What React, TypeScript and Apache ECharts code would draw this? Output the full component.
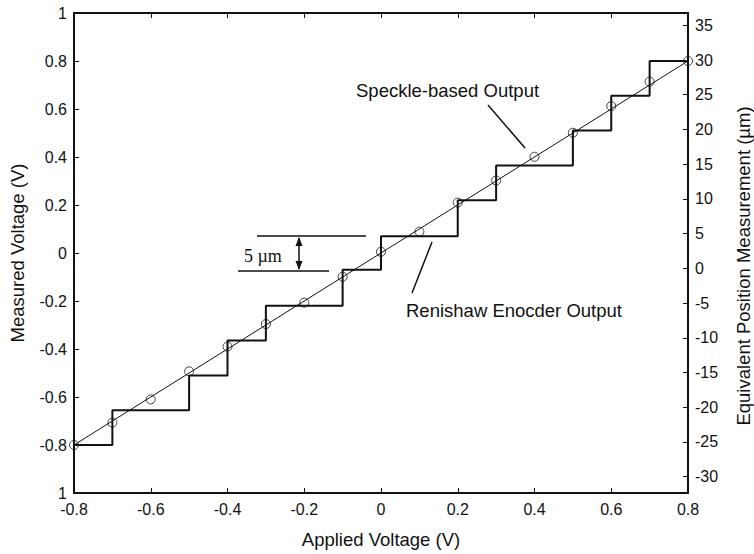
import React, { useEffect, useRef } from "react";
import * as echarts from "echarts";

// Renishaw encoder output (staircase): transition x positions and levels (V)
const stepX = [-0.8, -0.7, -0.5, -0.4, -0.3, -0.1, 0, 0.2, 0.3, 0.5, 0.6, 0.7, 0.8];
const stepV = [-0.8, -0.655, -0.51, -0.365, -0.22, -0.07, 0.07, 0.22, 0.365, 0.51, 0.655, 0.8, 0.8];

// Speckle-based output (circles)
const speckleX = [-0.8, -0.7, -0.6, -0.5, -0.4, -0.3, -0.2, -0.1, 0, 0.1, 0.2, 0.3, 0.4, 0.5, 0.6, 0.7, 0.8];
const speckleV = [-0.8, -0.707, -0.61, -0.493, -0.39, -0.296, -0.207, -0.099, 0.005, 0.089, 0.21, 0.302, 0.401, 0.501, 0.612, 0.714, 0.8];

// Reference straight line
const lineX = [-0.8, 0.8];
const lineV = [-0.8, 0.8];

// Right axis ticks (µm)
const rightTicks = [-30, -25, -20, -15, -10, -5, 0, 5, 10, 15, 20, 25, 30, 35];

const FONT = "'Liberation Sans', Arial, Helvetica, sans-serif";
const INK = "#111";
const TITLE = 18.5;

export default function App() {
  const ref = useRef<HTMLDivElement>(null);
  useEffect(() => {
    if (!ref.current) return;
    const chart = echarts.init(ref.current, undefined, { renderer: "svg" });
    const axisLine = { show: true, onZero: false, lineStyle: { color: INK, width: 2 } };
    const labelStyle = { color: INK, fontSize: 16, fontFamily: FONT };
    const titleStyle = { color: INK, fontSize: TITLE, fontFamily: FONT };
    chart.setOption({
      animation: false,
      backgroundColor: "#fff",
      grid: { left: 74, top: 13, right: 66, bottom: 61, containLabel: false },
      xAxis: [
        {
          type: "value",
          min: -0.8,
          max: 0.8,
          interval: 0.2,
          position: "bottom",
          axisLine,
          axisTick: { show: true, inside: true, length: 5, lineStyle: { color: INK, width: 1 } },
          axisLabel: { ...labelStyle, margin: 8, formatter: (v: number) => String(Math.round(v * 10) / 10) },
          splitLine: { show: false },
          name: "Applied Voltage (V)",
          nameLocation: "middle",
          nameGap: 37,
          nameTextStyle: { ...titleStyle },
        },
        {
          type: "value",
          min: -0.8,
          max: 0.8,
          interval: 0.2,
          position: "top",
          axisLine,
          axisTick: { show: true, inside: true, length: 5, lineStyle: { color: INK, width: 1 } },
          axisLabel: { show: false },
          splitLine: { show: false },
        },
      ],
      yAxis: [
        {
          type: "value",
          min: -1,
          max: 1,
          interval: 0.2,
          position: "left",
          axisLine,
          axisTick: { show: true, inside: true, length: 5, lineStyle: { color: INK, width: 1 } },
          axisLabel: {
            ...labelStyle,
            margin: 7,
            formatter: (v: number) => {
              const r = Math.round(v * 10) / 10;
              return r === -1 ? "1" : String(r);
            },
          },
          splitLine: { show: false },
          name: "Measured Voltage (V)",
          nameLocation: "middle",
          nameRotate: 90,
          nameGap: 47,
          nameTextStyle: { ...titleStyle },
        },
        {
          type: "value",
          min: -32.35,
          max: 36.77,
          position: "right",
          axisLine,
          axisTick: { show: true, inside: true, length: 5, customValues: rightTicks, lineStyle: { color: INK, width: 1 } },
          axisLabel: { ...labelStyle, margin: 7, customValues: rightTicks },
          splitLine: { show: false },
        },
      ],
      series: [
        {
          name: "Renishaw Encoder Output",
          type: "line",
          step: "end",
          xAxisIndex: 0,
          yAxisIndex: 0,
          data: stepX.map((x, i) => [x, stepV[i]]),
          showSymbol: false,
          symbol: "none",
          lineStyle: { color: INK, width: 2 },
          z: 2,
        },
        {
          name: "Reference",
          type: "line",
          xAxisIndex: 0,
          yAxisIndex: 0,
          data: lineX.map((x, i) => [x, lineV[i]]),
          symbol: "none",
          lineStyle: { color: INK, width: 1 },
          z: 3,
        },
        {
          name: "Speckle-based Output",
          type: "scatter",
          xAxisIndex: 0,
          yAxisIndex: 0,
          data: speckleX.map((x, i) => [x, speckleV[i]]),
          symbol: "circle",
          symbolSize: 9,
          itemStyle: { color: "rgba(255,255,255,0)", borderColor: INK, borderWidth: 1 },
          z: 4,
        },
      ],
      graphic: [
        {
          type: "text",
          x: 356,
          y: 90,
          style: { text: "Speckle-based Output", fill: INK, fontSize: TITLE, fontFamily: FONT, align: "left", verticalAlign: "middle" },
        },
        { type: "line", shape: { x1: 488, y1: 105, x2: 525, y2: 148 }, style: { stroke: INK, lineWidth: 1.5 } },
        {
          type: "text",
          x: 406,
          y: 310,
          style: { text: "Renishaw Enocder Output", fill: INK, fontSize: TITLE, fontFamily: FONT, align: "left", verticalAlign: "middle" },
        },
        { type: "line", shape: { x1: 432, y1: 242, x2: 412, y2: 293 }, style: { stroke: INK, lineWidth: 1.5 } },
        { type: "line", shape: { x1: 257, y1: 236, x2: 366, y2: 236 }, style: { stroke: INK, lineWidth: 1.5 } },
        { type: "line", shape: { x1: 238, y1: 271, x2: 329, y2: 271 }, style: { stroke: INK, lineWidth: 1.5 } },
        { type: "line", shape: { x1: 299, y1: 238, x2: 299, y2: 269 }, style: { stroke: INK, lineWidth: 1.5 } },
        { type: "polygon", shape: { points: [[299, 237], [295.5, 246], [302.5, 246]] }, style: { fill: INK } },
        { type: "polygon", shape: { points: [[299, 270], [295.5, 261], [302.5, 261]] }, style: { fill: INK } },
        {
          type: "text",
          x: 244,
          y: 256,
          style: { text: "5 µm", fill: INK, fontSize: 18, fontFamily: "'Liberation Serif', 'Times New Roman', serif", align: "left", verticalAlign: "middle" },
        },
        {
          type: "text",
          x: 743,
          y: 266,
          rotation: Math.PI / 2,
          style: { text: "Equivalent Position Measurement (µm)", fill: INK, fontSize: TITLE, fontFamily: FONT, align: "center", verticalAlign: "middle" },
        },
      ],
    });
    return () => chart.dispose();
  }, []);
  return <div ref={ref} style={{ width: 754, height: 554, position: "absolute", left: 0, top: 0 }} />;
}
